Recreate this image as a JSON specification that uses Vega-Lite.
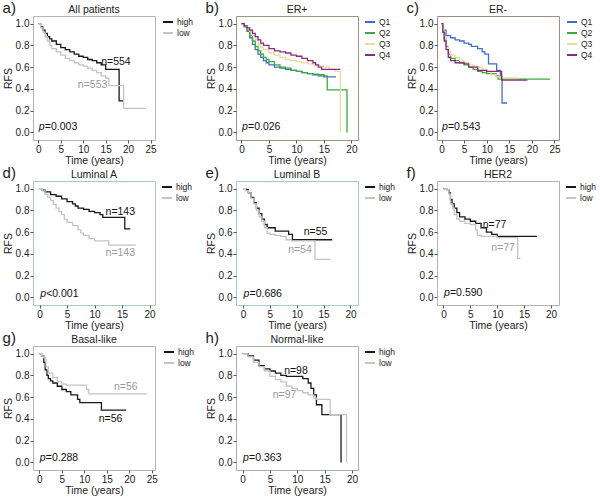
{
"$schema":"https://vega.github.io/schema/vega-lite/v6.json",
"padding":{"left":2,"top":1,"right":0,"bottom":0},
"columns":3,
"spacing":{"row":0,"column":10},
"resolve":{"scale":{"color":"independent"},"legend":{"color":"independent"}},
"config":{
 "font":"Liberation Sans",
 "view":{"stroke":"#b4b4b4"},
 "axis":{"labelFontSize":10,"titleFontSize":10.5,"titleFontWeight":"normal","labelColor":"#222","titleColor":"#222","tickColor":"#555","tickSize":3,"domain":false,"grid":false,"labelPadding":1,"labelOverlap":false,"labelFlush":false,"tickCount":10},
 "axisY":{"titlePadding":2},
 "axisX":{"titlePadding":1},
 "title":{"fontSize":10.5,"fontWeight":"normal","color":"#222","offset":1},
 "legend":{"orient":"right","offset":5,"labelFontSize":8.5,"symbolType":"stroke","symbolStrokeWidth":2,"symbolSize":100,"rowPadding":0,"padding":0,"labelColor":"#222","labelOffset":3},
 "text":{"font":"Liberation Sans"}
},
"datasets":{
 "a":[{"g":"high","t":0,"s":1},{"g":"high","t":0.5,"s":0.97},{"g":"high","t":1,"s":0.94},{"g":"high","t":1.5,"s":0.91},{"g":"high","t":2,"s":0.88},{"g":"high","t":2.5,"s":0.86},{"g":"high","t":3,"s":0.84},{"g":"high","t":4,"s":0.81},{"g":"high","t":5,"s":0.78},{"g":"high","t":6,"s":0.76},{"g":"high","t":7,"s":0.74},{"g":"high","t":8,"s":0.72},{"g":"high","t":9,"s":0.7},{"g":"high","t":10,"s":0.69},{"g":"high","t":11,"s":0.67},{"g":"high","t":12,"s":0.66},{"g":"high","t":13,"s":0.64},{"g":"high","t":14,"s":0.62},{"g":"high","t":15,"s":0.58},{"g":"high","t":18,"s":0.29},{"g":"high","t":19,"s":0.29},
  {"g":"low","t":0,"s":1},{"g":"low","t":0.5,"s":0.96},{"g":"low","t":1,"s":0.92},{"g":"low","t":1.5,"s":0.88},{"g":"low","t":2,"s":0.84},{"g":"low","t":2.5,"s":0.8},{"g":"low","t":3,"s":0.77},{"g":"low","t":4,"s":0.74},{"g":"low","t":5,"s":0.71},{"g":"low","t":6,"s":0.68},{"g":"low","t":7,"s":0.66},{"g":"low","t":8,"s":0.64},{"g":"low","t":9,"s":0.62},{"g":"low","t":10,"s":0.61},{"g":"low","t":11,"s":0.59},{"g":"low","t":12,"s":0.57},{"g":"low","t":13,"s":0.55},{"g":"low","t":14,"s":0.52},{"g":"low","t":15,"s":0.5},{"g":"low","t":15.7,"s":0.43},{"g":"low","t":19,"s":0.22},{"g":"low","t":24,"s":0.22}],
 "a_n":[{"g":"high","t":14,"s":0.65,"txt":"n=554"},{"g":"low","t":8.8,"s":0.44,"txt":"n=553"}],
 "a_p":[{"t":0.1,"s":0.05,"pv":"=0.003"}],
 "b":[{"g":"Q1","t":0,"s":1},{"g":"Q1","t":0.5,"s":0.97},{"g":"Q1","t":1,"s":0.93},{"g":"Q1","t":1.5,"s":0.87},{"g":"Q1","t":2,"s":0.81},{"g":"Q1","t":2.5,"s":0.76},{"g":"Q1","t":3,"s":0.72},{"g":"Q1","t":3.5,"s":0.69},{"g":"Q1","t":4,"s":0.66},{"g":"Q1","t":4.5,"s":0.64},{"g":"Q1","t":5,"s":0.62},{"g":"Q1","t":6,"s":0.6},{"g":"Q1","t":7,"s":0.59},{"g":"Q1","t":8,"s":0.58},{"g":"Q1","t":9,"s":0.57},{"g":"Q1","t":10,"s":0.56},{"g":"Q1","t":11,"s":0.55},{"g":"Q1","t":12,"s":0.54},{"g":"Q1","t":13,"s":0.53},{"g":"Q1","t":14,"s":0.52},{"g":"Q1","t":15,"s":0.51},{"g":"Q1","t":17.2,"s":0.51},
  {"g":"Q2","t":0,"s":1},{"g":"Q2","t":0.5,"s":0.98},{"g":"Q2","t":1,"s":0.94},{"g":"Q2","t":1.5,"s":0.89},{"g":"Q2","t":2,"s":0.84},{"g":"Q2","t":2.5,"s":0.79},{"g":"Q2","t":3,"s":0.75},{"g":"Q2","t":3.5,"s":0.72},{"g":"Q2","t":4,"s":0.69},{"g":"Q2","t":4.5,"s":0.67},{"g":"Q2","t":5,"s":0.65},{"g":"Q2","t":6,"s":0.62},{"g":"Q2","t":7,"s":0.6},{"g":"Q2","t":8,"s":0.59},{"g":"Q2","t":9,"s":0.57},{"g":"Q2","t":10,"s":0.56},{"g":"Q2","t":11,"s":0.55},{"g":"Q2","t":12,"s":0.54},{"g":"Q2","t":13,"s":0.535},{"g":"Q2","t":14,"s":0.53},{"g":"Q2","t":15,"s":0.52},{"g":"Q2","t":15.6,"s":0.39},{"g":"Q2","t":19.2,"s":0},
  {"g":"Q3","t":0,"s":1},{"g":"Q3","t":0.5,"s":0.98},{"g":"Q3","t":1,"s":0.96},{"g":"Q3","t":1.5,"s":0.93},{"g":"Q3","t":2,"s":0.89},{"g":"Q3","t":2.5,"s":0.85},{"g":"Q3","t":3,"s":0.81},{"g":"Q3","t":3.5,"s":0.78},{"g":"Q3","t":4,"s":0.76},{"g":"Q3","t":5,"s":0.73},{"g":"Q3","t":6,"s":0.71},{"g":"Q3","t":7,"s":0.69},{"g":"Q3","t":8,"s":0.67},{"g":"Q3","t":9,"s":0.66},{"g":"Q3","t":10,"s":0.65},{"g":"Q3","t":11,"s":0.64},{"g":"Q3","t":12,"s":0.63},{"g":"Q3","t":13,"s":0.62},{"g":"Q3","t":14,"s":0.61},{"g":"Q3","t":15,"s":0.6},{"g":"Q3","t":16,"s":0.58},{"g":"Q3","t":17,"s":0.56},{"g":"Q3","t":18,"s":0},
  {"g":"Q4","t":0,"s":1},{"g":"Q4","t":0.5,"s":0.98},{"g":"Q4","t":1,"s":0.96},{"g":"Q4","t":1.5,"s":0.94},{"g":"Q4","t":2,"s":0.91},{"g":"Q4","t":2.5,"s":0.88},{"g":"Q4","t":3,"s":0.85},{"g":"Q4","t":3.5,"s":0.82},{"g":"Q4","t":4,"s":0.8},{"g":"Q4","t":5,"s":0.77},{"g":"Q4","t":6,"s":0.75},{"g":"Q4","t":7,"s":0.74},{"g":"Q4","t":8,"s":0.73},{"g":"Q4","t":9,"s":0.71},{"g":"Q4","t":10,"s":0.7},{"g":"Q4","t":11,"s":0.68},{"g":"Q4","t":12,"s":0.66},{"g":"Q4","t":13,"s":0.64},{"g":"Q4","t":13.5,"s":0.62},{"g":"Q4","t":14,"s":0.6},{"g":"Q4","t":14.6,"s":0.58},{"g":"Q4","t":18,"s":0.58}],
 "b_p":[{"t":0.1,"s":0.05,"pv":"=0.026"}],
 "c":[{"g":"Q1","t":0,"s":1},{"g":"Q1","t":0.3,"s":0.94},{"g":"Q1","t":1,"s":0.89},{"g":"Q1","t":2,"s":0.87},{"g":"Q1","t":3,"s":0.85},{"g":"Q1","t":4,"s":0.84},{"g":"Q1","t":5,"s":0.82},{"g":"Q1","t":6,"s":0.81},{"g":"Q1","t":6.6,"s":0.79},{"g":"Q1","t":8,"s":0.77},{"g":"Q1","t":9,"s":0.74},{"g":"Q1","t":9.6,"s":0.72},{"g":"Q1","t":10.4,"s":0.63},{"g":"Q1","t":12.2,"s":0.57},{"g":"Q1","t":13,"s":0.51},{"g":"Q1","t":13.4,"s":0.27},{"g":"Q1","t":14.5,"s":0.27},
  {"g":"Q2","t":0,"s":1},{"g":"Q2","t":0.3,"s":0.93},{"g":"Q2","t":0.6,"s":0.86},{"g":"Q2","t":1,"s":0.79},{"g":"Q2","t":1.5,"s":0.72},{"g":"Q2","t":2,"s":0.68},{"g":"Q2","t":3,"s":0.66},{"g":"Q2","t":4,"s":0.64},{"g":"Q2","t":5,"s":0.62},{"g":"Q2","t":6,"s":0.6},{"g":"Q2","t":7,"s":0.58},{"g":"Q2","t":8,"s":0.56},{"g":"Q2","t":9,"s":0.55},{"g":"Q2","t":10,"s":0.54},{"g":"Q2","t":12,"s":0.52},{"g":"Q2","t":12.5,"s":0.49},{"g":"Q2","t":24,"s":0.49},
  {"g":"Q3","t":0,"s":1},{"g":"Q3","t":0.3,"s":0.95},{"g":"Q3","t":0.6,"s":0.88},{"g":"Q3","t":1,"s":0.8},{"g":"Q3","t":1.5,"s":0.74},{"g":"Q3","t":2,"s":0.71},{"g":"Q3","t":3,"s":0.69},{"g":"Q3","t":4,"s":0.66},{"g":"Q3","t":5,"s":0.64},{"g":"Q3","t":6,"s":0.62},{"g":"Q3","t":7,"s":0.61},{"g":"Q3","t":8,"s":0.6},{"g":"Q3","t":9,"s":0.58},{"g":"Q3","t":10,"s":0.56},{"g":"Q3","t":11,"s":0.53},{"g":"Q3","t":12,"s":0.51},{"g":"Q3","t":13,"s":0.5},{"g":"Q3","t":17,"s":0.5},
  {"g":"Q4","t":0,"s":1},{"g":"Q4","t":0.3,"s":0.92},{"g":"Q4","t":0.6,"s":0.84},{"g":"Q4","t":1,"s":0.76},{"g":"Q4","t":1.5,"s":0.69},{"g":"Q4","t":2,"s":0.66},{"g":"Q4","t":3,"s":0.64},{"g":"Q4","t":5,"s":0.63},{"g":"Q4","t":6,"s":0.6},{"g":"Q4","t":8,"s":0.57},{"g":"Q4","t":10,"s":0.56},{"g":"Q4","t":12,"s":0.56},{"g":"Q4","t":13.3,"s":0.48},{"g":"Q4","t":19,"s":0.48}],
 "c_p":[{"t":0.1,"s":0.05,"pv":"=0.543"}],
 "d":[{"g":"high","t":0,"s":1},{"g":"high","t":0.5,"s":0.985},{"g":"high","t":1,"s":0.97},{"g":"high","t":2,"s":0.945},{"g":"high","t":3,"s":0.93},{"g":"high","t":4,"s":0.905},{"g":"high","t":5,"s":0.88},{"g":"high","t":6,"s":0.86},{"g":"high","t":6.5,"s":0.84},{"g":"high","t":7,"s":0.82},{"g":"high","t":8,"s":0.81},{"g":"high","t":9,"s":0.79},{"g":"high","t":10,"s":0.78},{"g":"high","t":11,"s":0.76},{"g":"high","t":11.5,"s":0.735},{"g":"high","t":15.5,"s":0.63},{"g":"high","t":16.5,"s":0.63},
  {"g":"low","t":0,"s":1},{"g":"low","t":0.5,"s":0.98},{"g":"low","t":1,"s":0.95},{"g":"low","t":1.5,"s":0.92},{"g":"low","t":2,"s":0.89},{"g":"low","t":2.5,"s":0.855},{"g":"low","t":3,"s":0.82},{"g":"low","t":3.5,"s":0.79},{"g":"low","t":4,"s":0.76},{"g":"low","t":4.5,"s":0.72},{"g":"low","t":5,"s":0.69},{"g":"low","t":6,"s":0.66},{"g":"low","t":7,"s":0.62},{"g":"low","t":7.5,"s":0.59},{"g":"low","t":8,"s":0.57},{"g":"low","t":9,"s":0.54},{"g":"low","t":10,"s":0.52},{"g":"low","t":12.6,"s":0.48},{"g":"low","t":17.5,"s":0.48}],
 "d_n":[{"g":"high","t":12,"s":0.785,"txt":"n=143"},{"g":"low","t":12,"s":0.41,"txt":"n=143"}],
 "d_p":[{"t":0.1,"s":0.03,"pv":"<0.001"}],
 "e":[{"g":"high","t":0,"s":1},{"g":"high","t":0.5,"s":0.99},{"g":"high","t":1,"s":0.96},{"g":"high","t":1.5,"s":0.92},{"g":"high","t":2,"s":0.87},{"g":"high","t":2.5,"s":0.82},{"g":"high","t":3,"s":0.77},{"g":"high","t":3.5,"s":0.72},{"g":"high","t":4,"s":0.67},{"g":"high","t":4.5,"s":0.64},{"g":"high","t":6,"s":0.61},{"g":"high","t":8.5,"s":0.58},{"g":"high","t":9.2,"s":0.53},{"g":"high","t":16.6,"s":0.53},
  {"g":"low","t":0,"s":1},{"g":"low","t":0.5,"s":0.98},{"g":"low","t":1,"s":0.96},{"g":"low","t":1.5,"s":0.91},{"g":"low","t":2,"s":0.86},{"g":"low","t":2.5,"s":0.8},{"g":"low","t":3,"s":0.74},{"g":"low","t":3.5,"s":0.7},{"g":"low","t":4,"s":0.64},{"g":"low","t":4.5,"s":0.59},{"g":"low","t":5,"s":0.58},{"g":"low","t":6,"s":0.57},{"g":"low","t":7,"s":0.56},{"g":"low","t":8,"s":0.53},{"g":"low","t":9,"s":0.52},{"g":"low","t":13.4,"s":0.35},{"g":"low","t":16.3,"s":0.35}],
 "e_n":[{"g":"high","t":11.3,"s":0.6,"txt":"n=55"},{"g":"low","t":8.4,"s":0.44,"txt":"n=54"}],
 "e_p":[{"t":0.1,"s":0.03,"pv":"=0.686"}],
 "f":[{"g":"high","t":0,"s":1},{"g":"high","t":0.6,"s":0.99},{"g":"high","t":1,"s":0.96},{"g":"high","t":1.3,"s":0.9},{"g":"high","t":1.6,"s":0.86},{"g":"high","t":2,"s":0.82},{"g":"high","t":2.5,"s":0.78},{"g":"high","t":3,"s":0.74},{"g":"high","t":4,"s":0.72},{"g":"high","t":5,"s":0.7},{"g":"high","t":6,"s":0.68},{"g":"high","t":7,"s":0.64},{"g":"high","t":8,"s":0.6},{"g":"high","t":9,"s":0.58},{"g":"high","t":10,"s":0.56},{"g":"high","t":17.3,"s":0.555},
  {"g":"low","t":0,"s":1},{"g":"low","t":0.6,"s":0.99},{"g":"low","t":1,"s":0.95},{"g":"low","t":1.3,"s":0.86},{"g":"low","t":1.7,"s":0.82},{"g":"low","t":2,"s":0.76},{"g":"low","t":2.5,"s":0.72},{"g":"low","t":3,"s":0.7},{"g":"low","t":4,"s":0.68},{"g":"low","t":5,"s":0.67},{"g":"low","t":6,"s":0.62},{"g":"low","t":6.3,"s":0.57},{"g":"low","t":7,"s":0.56},{"g":"low","t":10,"s":0.55},{"g":"low","t":13.8,"s":0.36},{"g":"low","t":14.3,"s":0.36}],
 "f_n":[{"g":"high","t":7.3,"s":0.67,"txt":"n=77"},{"g":"low","t":8.9,"s":0.45,"txt":"n=77"}],
 "f_p":[{"t":0.1,"s":0.04,"pv":"=0.590"}],
 "g":[{"g":"high","t":0,"s":1},{"g":"high","t":0.5,"s":0.98},{"g":"high","t":1,"s":0.92},{"g":"high","t":1.3,"s":0.85},{"g":"high","t":1.7,"s":0.8},{"g":"high","t":2,"s":0.77},{"g":"high","t":2.5,"s":0.75},{"g":"high","t":3,"s":0.73},{"g":"high","t":4,"s":0.7},{"g":"high","t":5,"s":0.67},{"g":"high","t":6,"s":0.65},{"g":"high","t":7,"s":0.62},{"g":"high","t":8.5,"s":0.58},{"g":"high","t":9,"s":0.55},{"g":"high","t":13.8,"s":0.48},{"g":"high","t":19.3,"s":0.48},
  {"g":"low","t":0,"s":1},{"g":"low","t":0.5,"s":0.98},{"g":"low","t":1,"s":0.96},{"g":"low","t":1.5,"s":0.88},{"g":"low","t":2,"s":0.82},{"g":"low","t":3,"s":0.78},{"g":"low","t":4,"s":0.74},{"g":"low","t":5,"s":0.72},{"g":"low","t":6,"s":0.71},{"g":"low","t":10.5,"s":0.67},{"g":"low","t":11,"s":0.63},{"g":"low","t":24,"s":0.63}],
 "g_n":[{"g":"high","t":13.2,"s":0.4,"txt":"n=56"},{"g":"low","t":16.6,"s":0.69,"txt":"n=56"}],
 "g_p":[{"t":0.1,"s":0.04,"pv":"=0.288"}],
 "h":[{"g":"high","t":0,"s":1},{"g":"high","t":1,"s":0.98},{"g":"high","t":2,"s":0.94},{"g":"high","t":3,"s":0.89},{"g":"high","t":4,"s":0.86},{"g":"high","t":5,"s":0.84},{"g":"high","t":6,"s":0.82},{"g":"high","t":7,"s":0.8},{"g":"high","t":8,"s":0.79},{"g":"high","t":11,"s":0.77},{"g":"high","t":12,"s":0.73},{"g":"high","t":12.5,"s":0.68},{"g":"high","t":13,"s":0.62},{"g":"high","t":13.5,"s":0.53},{"g":"high","t":14.5,"s":0.44},{"g":"high","t":18,"s":0},
  {"g":"low","t":0,"s":1},{"g":"low","t":1,"s":0.97},{"g":"low","t":2,"s":0.92},{"g":"low","t":3,"s":0.88},{"g":"low","t":4,"s":0.84},{"g":"low","t":5,"s":0.79},{"g":"low","t":6,"s":0.76},{"g":"low","t":7,"s":0.74},{"g":"low","t":8,"s":0.7},{"g":"low","t":9,"s":0.68},{"g":"low","t":10,"s":0.66},{"g":"low","t":11,"s":0.64},{"g":"low","t":12,"s":0.62},{"g":"low","t":13,"s":0.59},{"g":"low","t":13.5,"s":0.58},{"g":"low","t":16,"s":0.44},{"g":"low","t":19,"s":0}],
 "h_n":[{"g":"high","t":7.6,"s":0.84,"txt":"n=98"},{"g":"low","t":5.5,"s":0.615,"txt":"n=97"}],
 "h_p":[{"t":0.1,"s":0.04,"pv":"=0.363"}]
},
"concat":[
  {"title":{"text":"a)","anchor":"start","frame":"bounds","fontSize":15,"offset":-12},
   "vconcat":[{"width":122,"height":124,"title":"All patients","view":{"stroke":"#b4b4b4"},
    "layer":[
     {"data":{"name":"a"},"mark":{"type":"line","interpolate":"step-after","strokeWidth":1.3},
      "encoding":{"x":{"field":"t","type":"quantitative","scale":{"domain":[-1.2,26],"nice":false,"zero":false},"axis":{"values":[0,5,10,15,20,25],"tickCount":10,"labelOverlap":false,"title":"Time (years)"}},
       "y":{"field":"s","type":"quantitative","scale":{"domain":[-0.07,1.07],"nice":false,"zero":false},"axis":{"values":[0,0.2,0.4,0.6,0.8,1],"tickCount":10,"labelOverlap":false,"format":".1f","title":"RFS"}},
       "color":{"field":"g","type":"nominal","scale":{"domain":["high","low"],"range":["#1e1616","#c4c4c4"]},"legend":{"title":null}}}},
     {"data":{"name":"a_n"},"transform":[{"filter":"datum.g=='high'"}],"mark":{"type":"text","align":"left","fontSize":10.5,"color":"#111"},"encoding":{"x":{"field":"t","type":"quantitative"},"y":{"field":"s","type":"quantitative"},"text":{"field":"txt"}}},
     {"data":{"name":"a_n"},"transform":[{"filter":"datum.g=='low'"}],"mark":{"type":"text","align":"left","fontSize":10.5,"color":"#9a9a9a"},"encoding":{"x":{"field":"t","type":"quantitative"},"y":{"field":"s","type":"quantitative"},"text":{"field":"txt"}}},
     {"data":{"name":"a_p"},"mark":{"type":"text","align":"left","fontSize":10.5,"fontStyle":"italic","text":"p","color":"#111"},"encoding":{"x":{"field":"t","type":"quantitative"},"y":{"field":"s","type":"quantitative"}}},
     {"data":{"name":"a_p"},"mark":{"type":"text","align":"left","fontSize":10.5,"dx":6,"color":"#111"},"encoding":{"x":{"field":"t","type":"quantitative"},"y":{"field":"s","type":"quantitative"},"text":{"field":"pv"}}}
    ]}]},
  {"title":{"text":"b)","anchor":"start","frame":"bounds","fontSize":15,"offset":-12},
   "vconcat":[{"width":122,"height":124,"title":"ER+","view":{"stroke":"#a09482"},
    "layer":[
     {"data":{"name":"b"},"mark":{"type":"line","interpolate":"step-after","strokeWidth":1.3},
      "encoding":{"x":{"field":"t","type":"quantitative","scale":{"domain":[-1,21.2],"nice":false,"zero":false},"axis":{"values":[0,5,10,15,20],"tickCount":10,"labelOverlap":false,"title":"Time (years)"}},
       "y":{"field":"s","type":"quantitative","scale":{"domain":[-0.07,1.07],"nice":false,"zero":false},"axis":{"values":[0,0.2,0.4,0.6,0.8,1],"tickCount":10,"labelOverlap":false,"format":".1f","title":"RFS"}},
       "color":{"field":"g","type":"nominal","scale":{"domain":["Q1","Q2","Q3","Q4"],"range":["#3f6fc9","#3caa3c","#e6dca0","#8c2a80"]},"legend":{"title":null}}}},
     {"data":{"name":"b_p"},"mark":{"type":"text","align":"left","fontSize":10.5,"fontStyle":"italic","text":"p","color":"#111"},"encoding":{"x":{"field":"t","type":"quantitative"},"y":{"field":"s","type":"quantitative"}}},
     {"data":{"name":"b_p"},"mark":{"type":"text","align":"left","fontSize":10.5,"dx":6,"color":"#111"},"encoding":{"x":{"field":"t","type":"quantitative"},"y":{"field":"s","type":"quantitative"},"text":{"field":"pv"}}}
    ]}]},
  {"title":{"text":"c)","anchor":"start","frame":"bounds","fontSize":15,"offset":-12},
   "vconcat":[{"width":122,"height":124,"title":"ER-","view":{"stroke":"#a08c80"},
    "layer":[
     {"data":{"name":"c"},"mark":{"type":"line","interpolate":"step-after","strokeWidth":1.3},
      "encoding":{"x":{"field":"t","type":"quantitative","scale":{"domain":[-1,26],"nice":false,"zero":false},"axis":{"values":[0,5,10,15,20,25],"tickCount":10,"labelOverlap":false,"title":"Time (years)"}},
       "y":{"field":"s","type":"quantitative","scale":{"domain":[-0.07,1.07],"nice":false,"zero":false},"axis":{"values":[0,0.2,0.4,0.6,0.8,1],"tickCount":10,"labelOverlap":false,"format":".1f","title":"RFS"}},
       "color":{"field":"g","type":"nominal","scale":{"domain":["Q1","Q2","Q3","Q4"],"range":["#3f6fc9","#3caa3c","#e6dca0","#8c2a80"]},"legend":{"title":null}}}},
     {"data":{"name":"c_p"},"mark":{"type":"text","align":"left","fontSize":10.5,"fontStyle":"italic","text":"p","color":"#111"},"encoding":{"x":{"field":"t","type":"quantitative"},"y":{"field":"s","type":"quantitative"}}},
     {"data":{"name":"c_p"},"mark":{"type":"text","align":"left","fontSize":10.5,"dx":6,"color":"#111"},"encoding":{"x":{"field":"t","type":"quantitative"},"y":{"field":"s","type":"quantitative"},"text":{"field":"pv"}}}
    ]}]},
  {"title":{"text":"d)","anchor":"start","frame":"bounds","fontSize":15,"offset":-12},
   "vconcat":[{"width":122,"height":124,"title":"Luminal A","view":{"stroke":"#a8c8c0"},
    "layer":[
     {"data":{"name":"d"},"mark":{"type":"line","interpolate":"step-after","strokeWidth":1.3},
      "encoding":{"x":{"field":"t","type":"quantitative","scale":{"domain":[-1.2,21],"nice":false,"zero":false},"axis":{"values":[0,5,10,15,20],"tickCount":10,"labelOverlap":false,"title":"Time (years)"}},
       "y":{"field":"s","type":"quantitative","scale":{"domain":[-0.07,1.07],"nice":false,"zero":false},"axis":{"values":[0,0.2,0.4,0.6,0.8,1],"tickCount":10,"labelOverlap":false,"format":".1f","title":"RFS"}},
       "color":{"field":"g","type":"nominal","scale":{"domain":["high","low"],"range":["#1e1616","#c4c4c4"]},"legend":{"title":null}}}},
     {"data":{"name":"d_n"},"transform":[{"filter":"datum.g=='high'"}],"mark":{"type":"text","align":"left","fontSize":10.5,"color":"#111"},"encoding":{"x":{"field":"t","type":"quantitative"},"y":{"field":"s","type":"quantitative"},"text":{"field":"txt"}}},
     {"data":{"name":"d_n"},"transform":[{"filter":"datum.g=='low'"}],"mark":{"type":"text","align":"left","fontSize":10.5,"color":"#9a9a9a"},"encoding":{"x":{"field":"t","type":"quantitative"},"y":{"field":"s","type":"quantitative"},"text":{"field":"txt"}}},
     {"data":{"name":"d_p"},"mark":{"type":"text","align":"left","fontSize":10.5,"fontStyle":"italic","text":"p","color":"#111"},"encoding":{"x":{"field":"t","type":"quantitative"},"y":{"field":"s","type":"quantitative"}}},
     {"data":{"name":"d_p"},"mark":{"type":"text","align":"left","fontSize":10.5,"dx":6,"color":"#111"},"encoding":{"x":{"field":"t","type":"quantitative"},"y":{"field":"s","type":"quantitative"},"text":{"field":"pv"}}}
    ]}]},
  {"title":{"text":"e)","anchor":"start","frame":"bounds","fontSize":15,"offset":-12},
   "vconcat":[{"width":122,"height":124,"title":"Luminal B","view":{"stroke":"#a8c8c0"},
    "layer":[
     {"data":{"name":"e"},"mark":{"type":"line","interpolate":"step-after","strokeWidth":1.3},
      "encoding":{"x":{"field":"t","type":"quantitative","scale":{"domain":[-1.3,21.4],"nice":false,"zero":false},"axis":{"values":[0,5,10,15,20],"tickCount":10,"labelOverlap":false,"title":"Time (years)"}},
       "y":{"field":"s","type":"quantitative","scale":{"domain":[-0.07,1.07],"nice":false,"zero":false},"axis":{"values":[0,0.2,0.4,0.6,0.8,1],"tickCount":10,"labelOverlap":false,"format":".1f","title":"RFS"}},
       "color":{"field":"g","type":"nominal","scale":{"domain":["high","low"],"range":["#1e1616","#c4c4c4"]},"legend":{"title":null}}}},
     {"data":{"name":"e_n"},"transform":[{"filter":"datum.g=='high'"}],"mark":{"type":"text","align":"left","fontSize":10.5,"color":"#111"},"encoding":{"x":{"field":"t","type":"quantitative"},"y":{"field":"s","type":"quantitative"},"text":{"field":"txt"}}},
     {"data":{"name":"e_n"},"transform":[{"filter":"datum.g=='low'"}],"mark":{"type":"text","align":"left","fontSize":10.5,"color":"#9a9a9a"},"encoding":{"x":{"field":"t","type":"quantitative"},"y":{"field":"s","type":"quantitative"},"text":{"field":"txt"}}},
     {"data":{"name":"e_p"},"mark":{"type":"text","align":"left","fontSize":10.5,"fontStyle":"italic","text":"p","color":"#111"},"encoding":{"x":{"field":"t","type":"quantitative"},"y":{"field":"s","type":"quantitative"}}},
     {"data":{"name":"e_p"},"mark":{"type":"text","align":"left","fontSize":10.5,"dx":6,"color":"#111"},"encoding":{"x":{"field":"t","type":"quantitative"},"y":{"field":"s","type":"quantitative"},"text":{"field":"pv"}}}
    ]}]},
  {"title":{"text":"f)","anchor":"start","frame":"bounds","fontSize":15,"offset":-12},
   "vconcat":[{"width":122,"height":124,"title":"HER2","view":{"stroke":"#b4b4b4"},
    "layer":[
     {"data":{"name":"f"},"mark":{"type":"line","interpolate":"step-after","strokeWidth":1.3},
      "encoding":{"x":{"field":"t","type":"quantitative","scale":{"domain":[-1.2,21.5],"nice":false,"zero":false},"axis":{"values":[0,5,10,15,20],"tickCount":10,"labelOverlap":false,"title":"Time (years)"}},
       "y":{"field":"s","type":"quantitative","scale":{"domain":[-0.07,1.07],"nice":false,"zero":false},"axis":{"values":[0,0.2,0.4,0.6,0.8,1],"tickCount":10,"labelOverlap":false,"format":".1f","title":"RFS"}},
       "color":{"field":"g","type":"nominal","scale":{"domain":["high","low"],"range":["#1e1616","#c4c4c4"]},"legend":{"title":null}}}},
     {"data":{"name":"f_n"},"transform":[{"filter":"datum.g=='high'"}],"mark":{"type":"text","align":"left","fontSize":10.5,"color":"#111"},"encoding":{"x":{"field":"t","type":"quantitative"},"y":{"field":"s","type":"quantitative"},"text":{"field":"txt"}}},
     {"data":{"name":"f_n"},"transform":[{"filter":"datum.g=='low'"}],"mark":{"type":"text","align":"left","fontSize":10.5,"color":"#9a9a9a"},"encoding":{"x":{"field":"t","type":"quantitative"},"y":{"field":"s","type":"quantitative"},"text":{"field":"txt"}}},
     {"data":{"name":"f_p"},"mark":{"type":"text","align":"left","fontSize":10.5,"fontStyle":"italic","text":"p","color":"#111"},"encoding":{"x":{"field":"t","type":"quantitative"},"y":{"field":"s","type":"quantitative"}}},
     {"data":{"name":"f_p"},"mark":{"type":"text","align":"left","fontSize":10.5,"dx":6,"color":"#111"},"encoding":{"x":{"field":"t","type":"quantitative"},"y":{"field":"s","type":"quantitative"},"text":{"field":"pv"}}}
    ]}]},
  {"title":{"text":"g)","anchor":"start","frame":"bounds","fontSize":15,"offset":-12},
   "vconcat":[{"width":122,"height":124,"title":"Basal-like","view":{"stroke":"#b4b4b4"},
    "layer":[
     {"data":{"name":"g"},"mark":{"type":"line","interpolate":"step-after","strokeWidth":1.3},
      "encoding":{"x":{"field":"t","type":"quantitative","scale":{"domain":[-1.4,25.7],"nice":false,"zero":false},"axis":{"values":[0,5,10,15,20,25],"tickCount":10,"labelOverlap":false,"title":"Time (years)"}},
       "y":{"field":"s","type":"quantitative","scale":{"domain":[-0.07,1.07],"nice":false,"zero":false},"axis":{"values":[0,0.2,0.4,0.6,0.8,1],"tickCount":10,"labelOverlap":false,"format":".1f","title":"RFS"}},
       "color":{"field":"g","type":"nominal","scale":{"domain":["high","low"],"range":["#1e1616","#c4c4c4"]},"legend":{"title":null}}}},
     {"data":{"name":"g_n"},"transform":[{"filter":"datum.g=='high'"}],"mark":{"type":"text","align":"left","fontSize":10.5,"color":"#111"},"encoding":{"x":{"field":"t","type":"quantitative"},"y":{"field":"s","type":"quantitative"},"text":{"field":"txt"}}},
     {"data":{"name":"g_n"},"transform":[{"filter":"datum.g=='low'"}],"mark":{"type":"text","align":"left","fontSize":10.5,"color":"#9a9a9a"},"encoding":{"x":{"field":"t","type":"quantitative"},"y":{"field":"s","type":"quantitative"},"text":{"field":"txt"}}},
     {"data":{"name":"g_p"},"mark":{"type":"text","align":"left","fontSize":10.5,"fontStyle":"italic","text":"p","color":"#111"},"encoding":{"x":{"field":"t","type":"quantitative"},"y":{"field":"s","type":"quantitative"}}},
     {"data":{"name":"g_p"},"mark":{"type":"text","align":"left","fontSize":10.5,"dx":6,"color":"#111"},"encoding":{"x":{"field":"t","type":"quantitative"},"y":{"field":"s","type":"quantitative"},"text":{"field":"pv"}}}
    ]}]},
  {"title":{"text":"h)","anchor":"start","frame":"bounds","fontSize":15,"offset":-12},
   "vconcat":[{"width":122,"height":124,"title":"Normal-like","view":{"stroke":"#a8b0bc"},
    "layer":[
     {"data":{"name":"h"},"mark":{"type":"line","interpolate":"step-after","strokeWidth":1.3},
      "encoding":{"x":{"field":"t","type":"quantitative","scale":{"domain":[-1.2,21.1],"nice":false,"zero":false},"axis":{"values":[0,5,10,15,20],"tickCount":10,"labelOverlap":false,"title":"Time (years)"}},
       "y":{"field":"s","type":"quantitative","scale":{"domain":[-0.07,1.07],"nice":false,"zero":false},"axis":{"values":[0,0.2,0.4,0.6,0.8,1],"tickCount":10,"labelOverlap":false,"format":".1f","title":"RFS"}},
       "color":{"field":"g","type":"nominal","scale":{"domain":["high","low"],"range":["#1e1616","#c4c4c4"]},"legend":{"title":null}}}},
     {"data":{"name":"h_n"},"transform":[{"filter":"datum.g=='high'"}],"mark":{"type":"text","align":"left","fontSize":10.5,"color":"#111"},"encoding":{"x":{"field":"t","type":"quantitative"},"y":{"field":"s","type":"quantitative"},"text":{"field":"txt"}}},
     {"data":{"name":"h_n"},"transform":[{"filter":"datum.g=='low'"}],"mark":{"type":"text","align":"left","fontSize":10.5,"color":"#9a9a9a"},"encoding":{"x":{"field":"t","type":"quantitative"},"y":{"field":"s","type":"quantitative"},"text":{"field":"txt"}}},
     {"data":{"name":"h_p"},"mark":{"type":"text","align":"left","fontSize":10.5,"fontStyle":"italic","text":"p","color":"#111"},"encoding":{"x":{"field":"t","type":"quantitative"},"y":{"field":"s","type":"quantitative"}}},
     {"data":{"name":"h_p"},"mark":{"type":"text","align":"left","fontSize":10.5,"dx":6,"color":"#111"},"encoding":{"x":{"field":"t","type":"quantitative"},"y":{"field":"s","type":"quantitative"},"text":{"field":"pv"}}}
    ]}]}
]
}
